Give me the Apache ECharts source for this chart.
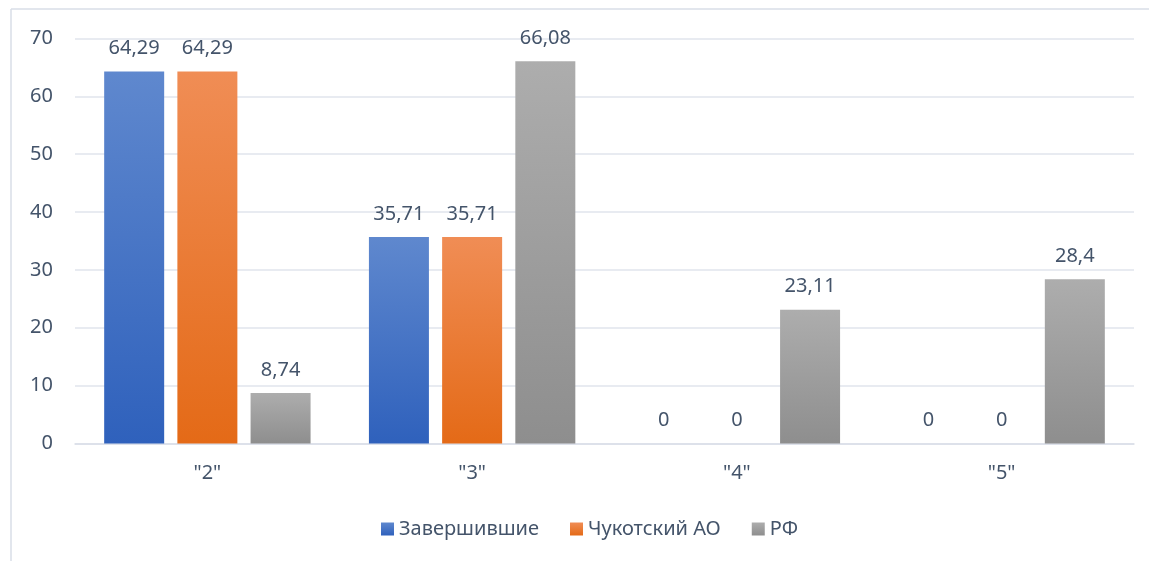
<!DOCTYPE html>
<html><head><meta charset="utf-8">
<script src="https://cdn.jsdelivr.net/npm/echarts@6/dist/echarts.min.js"></script>
<style>html,body{margin:0;padding:0;background:#fff}#c{width:1149px;height:561px}</style>
</head><body><div id="c"></div>
<script>
const categories = ['"2"', '"3"', '"4"', '"5"'];
const seriesNames = ['Завершившие', 'Чукотский АО', 'РФ'];
const zav = [64.29, 35.71, 0, 0];
const chao = [64.29, 35.71, 0, 0];
const rf = [8.74, 66.08, 23.11, 28.4];
const yTicks = [0, 10, 20, 30, 40, 50, 60, 70];

const font = '"Noto Sans", "Open Sans", sans-serif';
const txt = '#44546A';
function grad(top, bottom) {
  return new echarts.graphic.LinearGradient(0, 0, 0, 1, [{offset: 0, color: top}, {offset: 1, color: bottom}]);
}
const colors = [grad('#5F88CE', '#2F61BC'), grad('#F08D55', '#E46A17'), grad('#ADADAD', '#8E8E8E')];
const legendColors = [grad('#5F88CE', '#2F61BC'), grad('#F08D55', '#E46A17'), grad('#ADADAD', '#8E8E8E')];
const data = [zav, chao, rf];

const chart = echarts.init(document.getElementById('c'), null, {renderer: 'canvas'});
chart.setOption({
  animation: false,
  graphic: [
    {type: 'line', shape: {x1: 11, y1: 9, x2: 1149, y2: 9}, style: {stroke: '#D9DEE7', lineWidth: 1.5}, silent: true},
    {type: 'line', shape: {x1: 11, y1: 9, x2: 11, y2: 561}, style: {stroke: '#D9DEE7', lineWidth: 1.5}, silent: true}
  ],
  grid: {left: 75, right: 15, top: 38.5, bottom: 117.5, containLabel: false},
  legend: {
    data: seriesNames.map((n, i) => ({name: n, itemStyle: {color: legendColors[i]}})),
    top: 514, left: 376, itemWidth: 13, itemHeight: 13, itemGap: 31, icon: 'rect',
    textStyle: {color: txt, fontSize: 20, fontFamily: font}
  },
  xAxis: {
    type: 'category', data: categories,
    axisLine: {show: true, lineStyle: {color: '#D9DEE7', width: 1.5}},
    axisTick: {show: false},
    axisLabel: {color: txt, fontSize: 20, fontFamily: font, margin: 20}
  },
  yAxis: {
    type: 'value', min: yTicks[0], max: yTicks[yTicks.length - 1], interval: 10,
    axisLine: {show: false}, axisTick: {show: false},
    axisLabel: {color: txt, fontSize: 20, fontFamily: font, margin: 22},
    splitLine: {lineStyle: {color: '#E1E5EC', width: 1.5}}
  },
  series: seriesNames.map((n, i) => ({
    name: n, type: 'bar', data: data[i], barWidth: 60, barGap: '22%',
    itemStyle: {color: colors[i]},
    label: {show: true, position: 'top', distance: 13, color: txt, fontSize: 20, fontFamily: font,
      formatter: p => String(p.value).replace('.', ',')}
  }))
});
</script></body></html>
